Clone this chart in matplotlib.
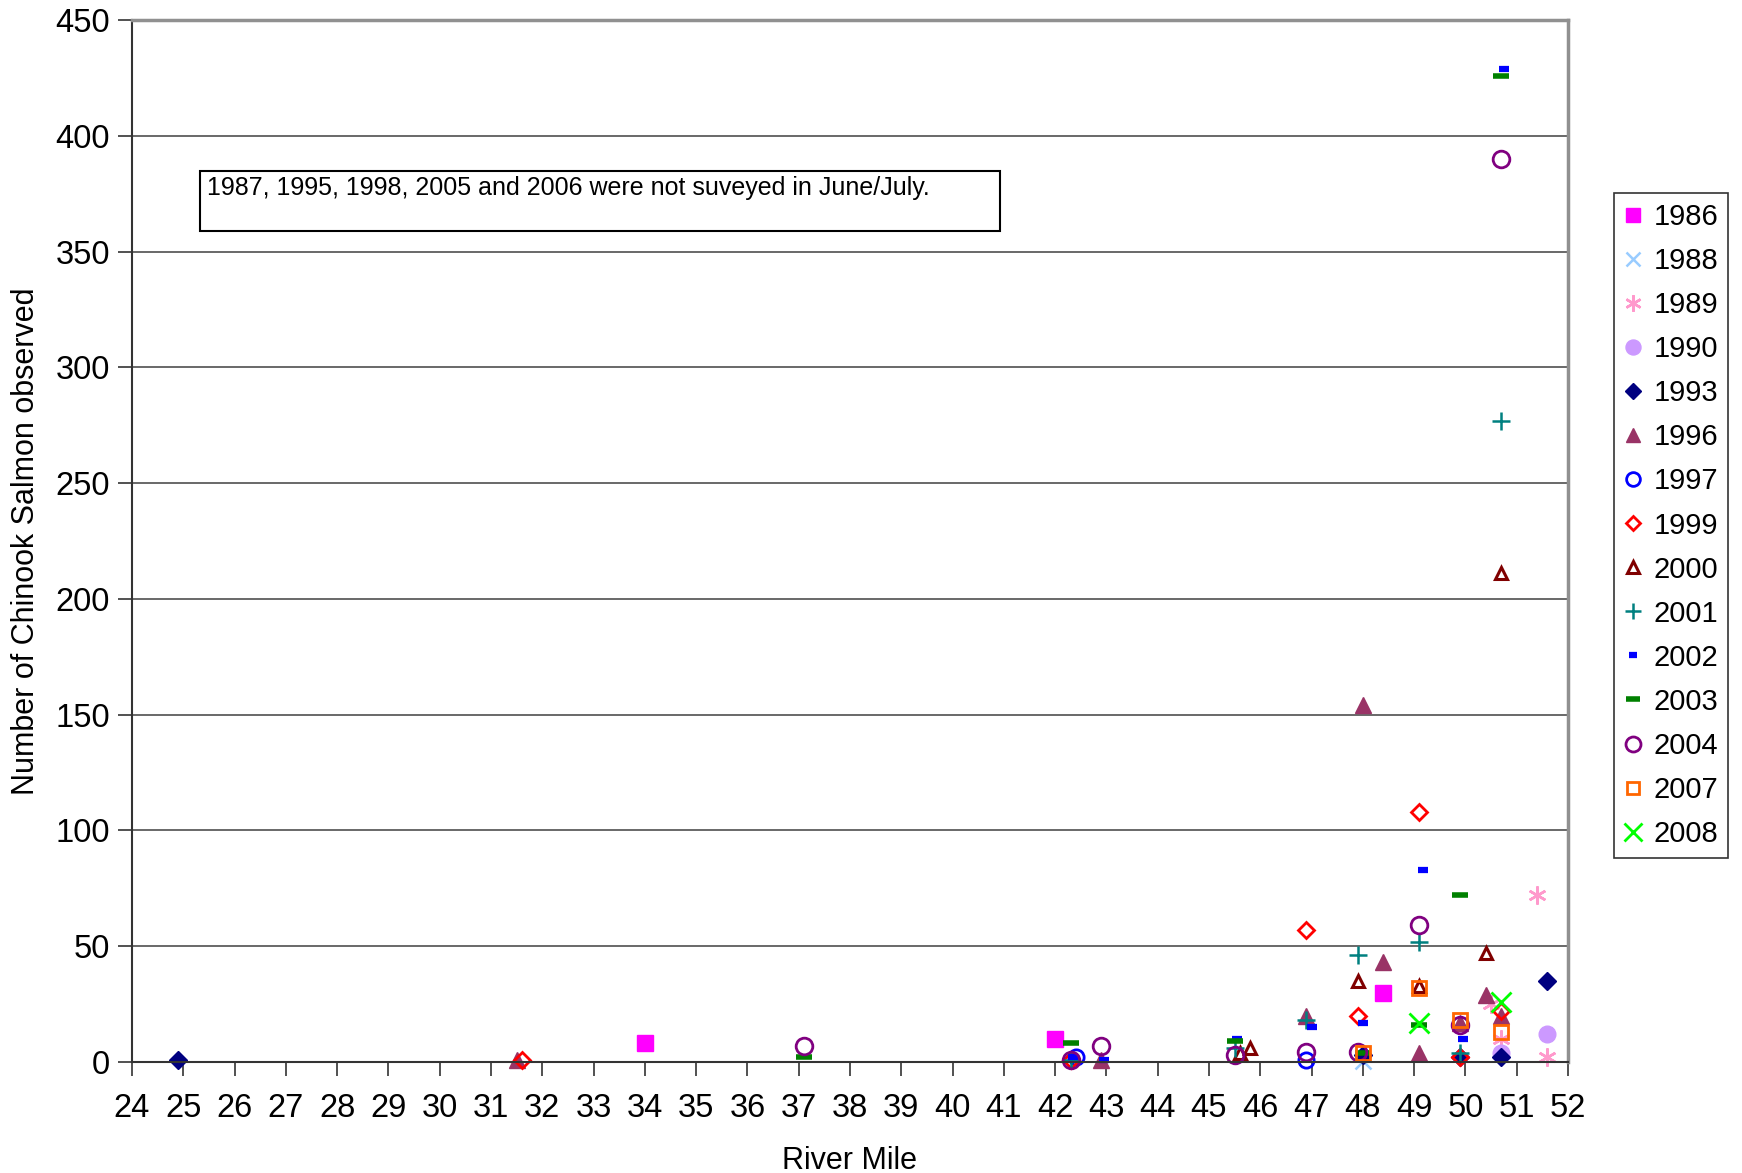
import matplotlib
matplotlib.use("Agg")
import matplotlib.pyplot as plt

plt.rcParams['font.family'] = ['Liberation Sans', 'DejaVu Sans']

# river mile / count per survey year (June/July)
years = ['1986', '1988', '1989', '1990', '1993', '1996', '1997', '1999',
         '2000', '2001', '2002', '2003', '2004', '2007', '2008']

mile_1986 = [34.0, 42.0, 48.4]
count_1986 = [8, 10, 30]
mile_1988 = [48.0]
count_1988 = [0.5]
mile_1989 = [51.4, 50.5, 50.7, 51.6]
count_1989 = [72, 25, 10, 2]
mile_1990 = [51.6, 50.7]
count_1990 = [12, 4]
mile_1993 = [24.9, 48.0, 49.9, 50.7, 51.6]
count_1993 = [1, 3, 2, 2, 35]
mile_1996 = [31.5, 42.9, 46.9, 48.0, 48.4, 49.1, 49.9, 50.4, 50.7]
count_1996 = [1, 1, 20, 154, 43, 4, 17, 29, 20]
mile_1997 = [42.4, 46.9]
count_1997 = [2, 1]
mile_1999 = [31.6, 42.3, 46.9, 47.9, 49.1, 49.9, 50.7]
count_1999 = [1, 1, 57, 20, 108, 2, 22]
mile_2000 = [45.6, 45.8, 47.9, 49.1, 50.4, 50.7]
count_2000 = [4, 6, 35, 33, 47, 211]
mile_2001 = [42.3, 45.5, 46.9, 47.9, 49.1, 49.9, 50.7]
count_2001 = [1, 6, 18, 46, 52, 4, 277]
mile_2002 = [42.35, 42.95, 45.55, 47.0, 48.0, 49.17, 49.95, 50.76]
count_2002 = [2, 1, 10, 15, 17, 83, 10, 429]
mile_2003 = [37.1, 42.3, 45.5, 48.0, 49.1, 49.9, 50.7]
count_2003 = [2, 8, 9, 4, 16, 72, 426]
mile_2004 = [37.1, 42.3, 42.9, 45.5, 46.9, 47.9, 49.1, 49.9, 50.7]
count_2004 = [7, 1, 7, 3, 4.5, 4.5, 59, 16, 390]
mile_2007 = [48.0, 49.1, 49.9, 50.7]
count_2007 = [4, 32, 18, 13]
mile_2008 = [49.1, 50.7]
count_2008 = [17, 26]

miles = [mile_1986, mile_1988, mile_1989, mile_1990, mile_1993, mile_1996, mile_1997,
         mile_1999, mile_2000, mile_2001, mile_2002, mile_2003, mile_2004, mile_2007, mile_2008]
counts = [count_1986, count_1988, count_1989, count_1990, count_1993, count_1996, count_1997,
          count_1999, count_2000, count_2001, count_2002, count_2003, count_2004, count_2007, count_2008]

# marker, colour, size, filled, edge width
styles = [
    ('s', '#FF00FF', 11, True, 1),
    ('x', '#99CCFF', 11, False, 1.8),
    ((6, 2, 0), '#FF99CC', 13, False, 1.8),
    ('o', '#CC99FF', 12, True, 1),
    ('D', '#000080', 9, True, 1),
    ('^', '#993366', 11, True, 1),
    ('o', '#0000FF', 11, False, 2),
    ('D', '#FF0000', 8, False, 2),
    ('^', '#800000', 9, False, 2.2),
    ('+', '#008080', 13, False, 1.8),
    ('_', '#0000FF', 7, False, 4.5),
    ('_', '#008000', 11, False, 4),
    ('o', '#800080', 12, False, 2),
    ('s', '#FF6600', 10, False, 2),
    ('x', '#00FF00', 14, False, 2),
]

fig = plt.figure(figsize=(17.42, 11.73), dpi=100)
ax = fig.add_axes([132/1742, 1 - 1062/1173, (1568 - 132)/1742, (1062 - 20)/1173])

for yr, xs, ys, (m, c, s, filled, ew) in zip(years, miles, counts, styles):
    ax.plot(xs, ys, linestyle='none', marker=m, markersize=s,
            markerfacecolor=c if filled else 'none', markeredgecolor=c,
            markeredgewidth=ew, label=yr, clip_on=False)

ax.set_xlim(24, 52)
ax.set_ylim(0, 450)
ax.set_xticks(range(24, 53))
ax.set_yticks(range(0, 451, 50))
ax.tick_params(axis='both', labelsize=23.5, length=10, width=1.2, color='#333333', direction='out')
ax.tick_params(axis='x', pad=12)
ax.tick_params(axis='y', pad=6)
ax.yaxis.grid(True, color='#404040', linewidth=1.1)
ax.set_axisbelow(True)

ax.spines['left'].set_color('#333333')
ax.spines['bottom'].set_color('#333333')
ax.spines['left'].set_linewidth(1.5)
ax.spines['bottom'].set_linewidth(1.5)
ax.spines['top'].set_color('#909090')
ax.spines['right'].set_color('#909090')
ax.spines['top'].set_linewidth(2.5)
ax.spines['right'].set_linewidth(2.5)

ax.set_xlabel('River Mile', fontsize=22, labelpad=16)
ax.set_ylabel('Number of Chinook Salmon observed', fontsize=22, labelpad=10)

# note box
fig.patches.append(plt.Rectangle((200/1742, 1 - 231/1173), 800/1742, 60/1173,
                                 transform=fig.transFigure, fill=False,
                                 edgecolor='black', linewidth=1.5))
fig.text(207/1742, 1 - 188/1173, '1987, 1995, 1998, 2005 and 2006 were not suveyed in June/July.',
         fontsize=18, va='center', ha='left')

leg = fig.legend(loc='upper left', bbox_to_anchor=(1614/1742, 1 - 193/1173),
                 fontsize=21, frameon=True, fancybox=False, edgecolor='black',
                 borderaxespad=0, labelspacing=0.55, handlelength=0.6,
                 handletextpad=0.4, borderpad=0.35, markerscale=0.9)
leg.get_frame().set_linewidth(1.2)

fig.savefig('out.png', dpi=100)
